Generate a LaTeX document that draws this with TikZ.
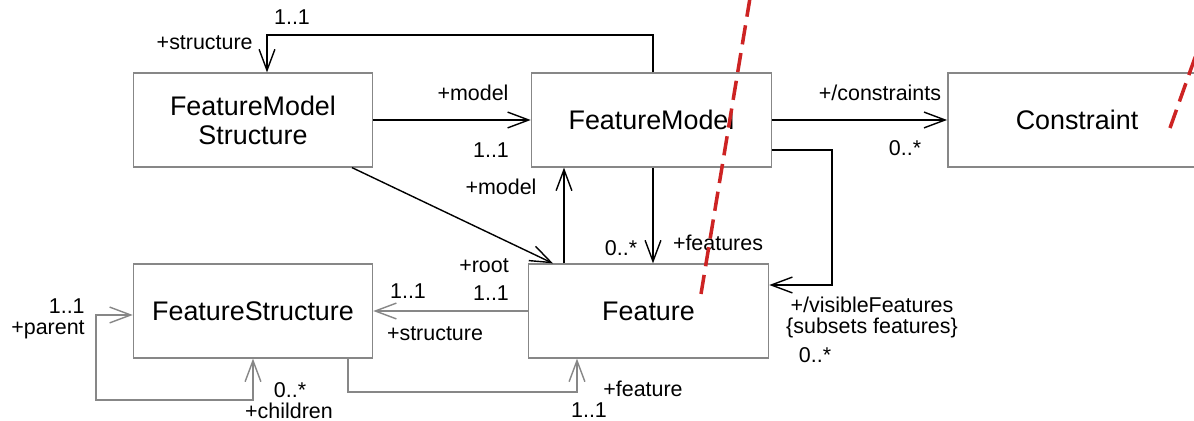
\documentclass[tikz,border=0pt]{standalone}
\usepackage{fontspec}
\setmainfont{Liberation Sans}
\usetikzlibrary{arrows.meta}
\definecolor{boxgray}{RGB}{135,135,135}
\definecolor{cutred}{RGB}{205,35,35}
\tikzset{
    classbox/.style={draw=boxgray, line width=0.9pt, fill=white, minimum height=53.3pt, font=\fontsize{15.3}{16.5}\selectfont, align=center, inner sep=0pt},
    link/.style={line width=0.8pt, black},
    graylink/.style={line width=0.8pt, boxgray},
    role/.style={font=\fontsize{12.2}{13.5}\selectfont, inner sep=0pt},
    cut/.style={line width=2pt, cutred, dash pattern=on 11pt off 5pt}
}
\begin{document}
\begin{tikzpicture}[x=0.02cm, y=-0.02cm, >={Straight Barb[length=12pt, width=9pt]}]
        \clip (0,0) rectangle (1194,421);
        \fill[white] (0,0) rectangle (1194,421);

        \node[classbox, minimum width=136pt] (fms) at (253,120) {FeatureModel\\Structure};
        \node[classbox, minimum width=136.6pt] (fm) at (651.5,120) {FeatureModel};
        \node[classbox, minimum width=147pt] (con) at (1077,120) {Constraint};
        \node[classbox, minimum width=136pt] (fs) at (253,311) {FeatureStructure};
        \node[classbox, minimum width=136.6pt] (feat) at (648.5,311) {Feature};

        \draw[link,->] (fm.north -| 653,0) |- (267,35) -- (fms.north -| 267,0);
        \draw[link,->] (fms.east) -- (fm.west);
        \draw[link,->] (fms.south -| 352,0) -- (feat.north -| 553,0);
        \draw[link,->] (feat.north -| 564,0) -- (fm.south -| 564,0);
        \draw[link,->] (fm.south -| 653,0) -- (feat.north -| 653,0);
        \draw[link,->] (fm.east) -- (con.west);
        \draw[link,->] (fm.east |- 0,150) -| (832,285) -- (feat.east |- 0,285);
        \draw[graylink,->] (feat.west) -- (fs.east);
        \draw[graylink,->] (fs.south -| 348,0) |- (577,392) -- (feat.south -| 577,0);
        \draw[graylink,<->] (fs.south) -- (253,400) -| (96,315) -- (fs.west |- 0,315);

        \node[role] (l1) at (292,17) {1..1};
        \node[role, anchor=east] (l2) at (253,43) {+structure};
        \node[role] (l3) at (473,93) {+model};
        \node[role] (l4) at (491,150) {1..1};
        \node[role] (l5) at (880,93) {+/constraints};
        \node[role] (l6) at (905,148) {0..*};
        \node[role] (l7) at (501,187) {+model};
        \node[role] (l8) at (484,266) {+root};
        \node[role] (l9) at (621,248) {0..*};
        \node[role] (l10) at (718,243) {+features};
        \node[role] (l11) at (408,291) {1..1};
        \node[role] (l12) at (491,293) {1..1};
        \node[role] (l13) at (435,334) {+structure};
        \node[role] (l14) at (872,305) {+/visibleFeatures};
        \node[role] (l15) at (872,328) {\{subsets features\}};
        \node[role] (l16) at (815,355) {0..*};
        \node[role] (l17) at (643,389) {+feature};
        \node[role] (l18) at (589,410) {1..1};
        \node[role, anchor=east] (l19) at (85,306) {1..1};
        \node[role, anchor=east] (l20) at (85,330) {+parent};
        \node[role] (l21) at (290,390) {0..*};
        \node[role] (l22) at (289,411) {+children};

        \draw[cut] (701,294) -- (750,-2);
        \draw[cut] (1170,128) -- (1197,52);
    \end{tikzpicture}
\end{document}
